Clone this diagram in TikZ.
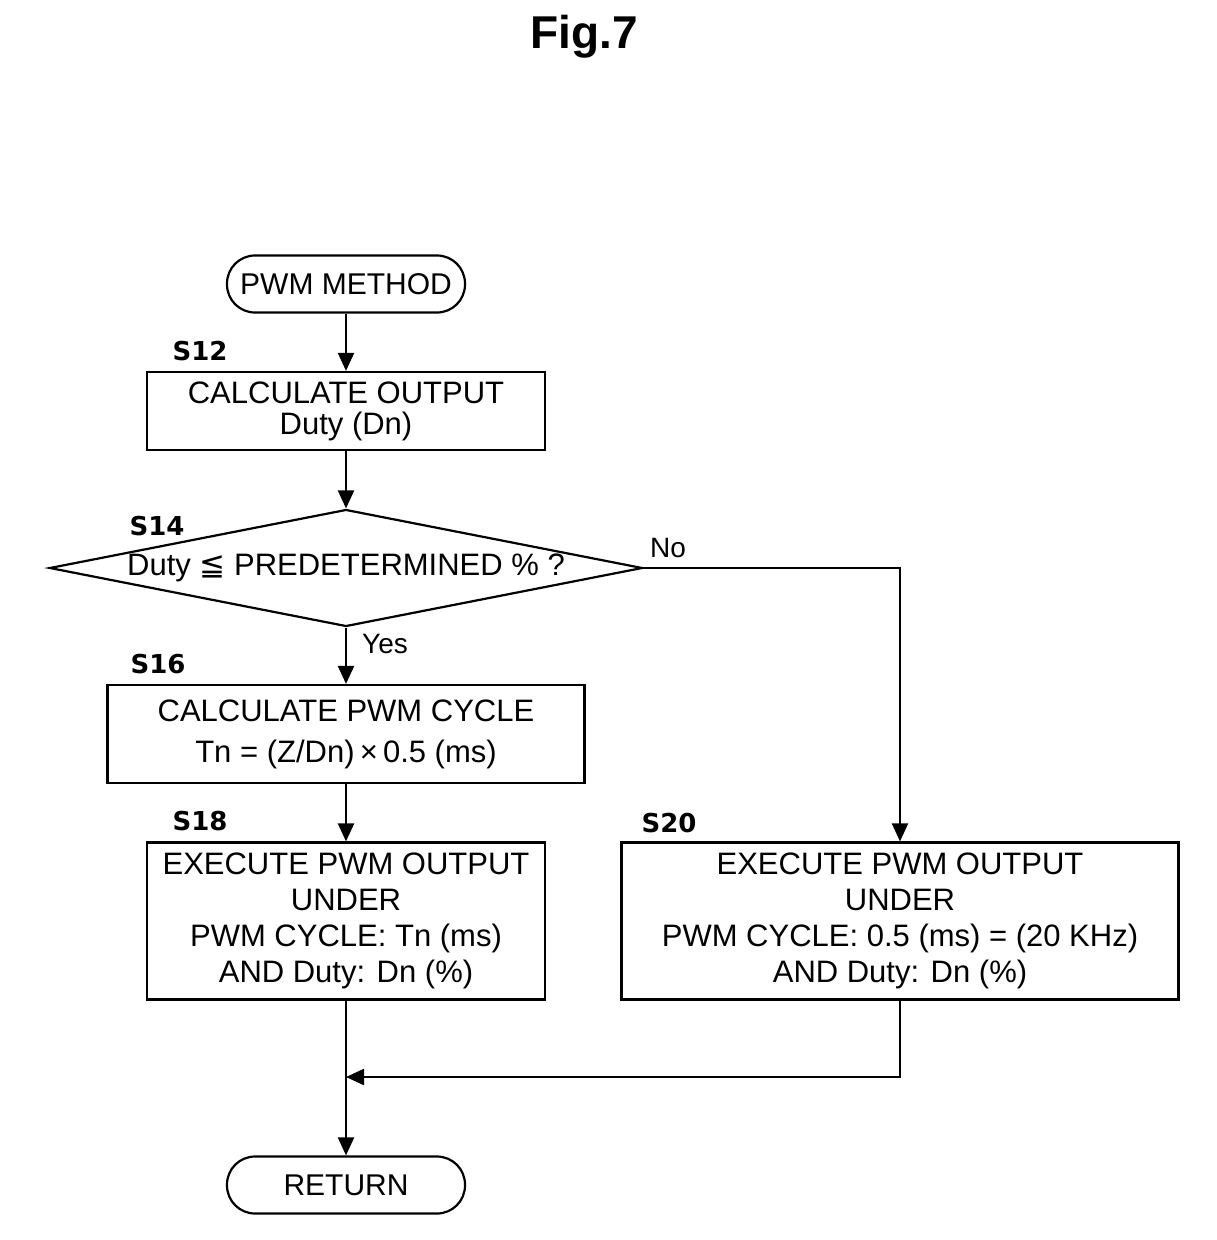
\documentclass[tikz,border=0pt]{standalone}
\usepackage{fontspec}
\setmainfont{Liberation Sans}
\newfontfamily\symfont{DejaVu Sans}
\newfontfamily\stepfont{DejaVu Sans}
\usetikzlibrary{shapes.geometric, arrows.meta}

\newcommand{\lines}[1]{\fontsize{31}{#1}\selectfont}

\begin{document}
\begin{tikzpicture}[x=1pt, y=-1pt, line width=2.2pt]
        \tikzstyle{every node} = [font=\lines{37}]
        \tikzstyle{term}   = [draw, rounded corners=28pt, inner sep=0pt, minimum width=238pt, minimum height=57pt, font=\fontsize{30}{30}\selectfont]
        \tikzstyle{proc}   = [draw, align=center, inner sep=0pt]
        \tikzstyle{dec}    = [draw, diamond, aspect=5.07, inner sep=0pt, minimum width=593pt, minimum height=117pt]
        \tikzstyle{stepno} = [anchor=base, font=\stepfont\bfseries\fontsize{26}{26}\selectfont]
        \tikzstyle{yn}     = [anchor=base, font=\fontsize{28}{28}\selectfont]
        \tikzstyle{arr}    = [-{Triangle[length=18pt, width=16pt]}]

        \def\cx{346}

        \useasboundingbox (0,0) rectangle (1216,1240);

        \node[anchor=base, font=\bfseries\fontsize{46}{46}\selectfont] (title) at (584,48) {Fig.7};

        \node[term] (start) at (\cx,284) {PWM METHOD};
        \node[proc, minimum width=398pt, minimum height=78pt, font=\lines{31}] (s12) at (\cx,411)
            {CALCULATE OUTPUT\\Duty (Dn)};
        \node[dec] (s14) at (\cx,568) {Duty {\symfont ≦} PREDETERMINED \% ?};
        \node[proc, minimum width=477pt, minimum height=98pt, font=\lines{41}] (s16) at (\cx,734)
            {CALCULATE PWM CYCLE\\Tn = (Z/Dn)\,×\,0.5 (ms)};
        \node[proc, minimum width=398pt, minimum height=157pt, font=\lines{36}] (s18) at (\cx,921)
            {EXECUTE PWM OUTPUT\\UNDER\\PWM CYCLE: Tn (ms)\\AND Duty: Dn (\%)};
        \node[proc, minimum width=557pt, minimum height=157pt, font=\lines{36}] (s20) at (900,921)
            {EXECUTE PWM OUTPUT\\UNDER\\PWM CYCLE: 0.5 (ms) = (20 KHz)\\AND Duty: Dn (\%)};
        \node[term] (ret) at (\cx,1185) {RETURN};

        % step numbers
        \node[stepno] (l12) at (200,360) {S12};
        \node[stepno] (l14) at (157,535) {S14};
        \node[stepno] (l16) at (158,673) {S16};
        \node[stepno] (l18) at (200,830) {S18};
        \node[stepno] (l20) at (669,832) {S20};

        \node[yn] (yes) at (385,653) {Yes};
        \node[yn] (no)  at (668,557) {No};

        \coordinate (join) at (\cx,1077);

        \draw[arr] (start) -- (s12);
        \draw[arr] (s12) -- (s14);
        \draw[arr] (s14.south) -- (s16);
        \draw[arr] (s14.east) -| (s20.north);
        \draw[arr] (s16) -- (s18);
        \draw[arr] (s18) -- (ret);
        \draw[arr] (s20.south) |- (join);
    \end{tikzpicture}
\end{document}
